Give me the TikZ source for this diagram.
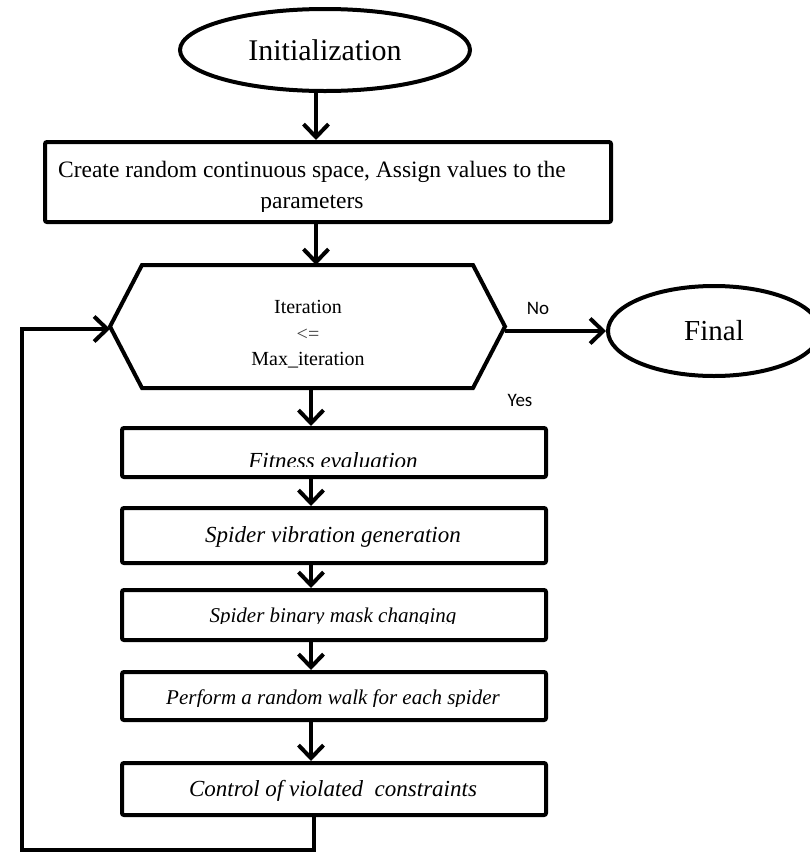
\documentclass[tikz,border=0pt]{standalone}
\usepackage{fontspec}
\setmainfont{Liberation Serif}[ItalicFont={Liberation Serif Italic}]
\newfontfamily\calib{Carlito}
\usetikzlibrary{shapes.geometric,arrows.meta}
\begin{document}
\begin{tikzpicture}[x=1pt,y=-1pt,
  line width=4pt,
  arr/.style={-{Straight Barb[length=13pt,width=25pt]},line width=4pt},
  oval/.style={ellipse,draw,line width=4pt,inner sep=0pt},
  box/.style={rectangle,draw,line width=4pt,rounded corners=2pt,inner sep=0pt},
  txt/.style={anchor=base,inner sep=0pt,outer sep=0pt},
  btxt/.style={txt,font=\fontsize{23}{26}\selectfont\itshape},
  stxt/.style={txt,font=\fontsize{21}{24}\selectfont\itshape},
  lab/.style={inner sep=0pt,font=\calib\fontsize{19}{22}\selectfont}]
\useasboundingbox (0,0) rectangle (810,855);
% axes
\coordinate (ax1) at (316,0);
\coordinate (ax2) at (311,0);
\coordinate (ax3) at (314,0);
% start
\node[oval,minimum width=290pt,minimum height=82pt,font=\fontsize{30}{34}\selectfont] (init) at (325,50) {Initialization};
% create box
\node[box,minimum width=566pt,minimum height=80pt] (create) at (328,182) {};
\node[txt,font=\fontsize{23.5}{26}\selectfont] (c1) at (312,177) {Create random continuous space, Assign values to the};
\begin{scope}
\clip (0,0) rectangle (810,211);
\node[txt,font=\fontsize{23.5}{26}\selectfont] (c2) at (312,208) {parameters};
\end{scope}
% hexagon decision
\node[rectangle,minimum width=331pt,minimum height=123pt,inner sep=0pt,outer sep=0pt] (hex) at (307.5,326.5) {};
\coordinate (hexW) at (110,326.5);
\coordinate (hexE) at (505,326.5);
\draw[line join=miter] (hexW) -- (hex.north west) -- (hex.north east) -- (hexE) -- (hex.south east) -- (hex.south west) -- cycle;
\node[txt,font=\fontsize{20}{24}\selectfont] (it1) at (308,313) {Iteration};
\node[txt,font=\fontsize{20}{24}\selectfont,text=black!75] (it2) at (308,340) {<=};
\node[txt,font=\fontsize{20}{24}\selectfont] (it3) at (308,365) {Max\_iteration};
% final
\node[oval,minimum width=212pt,minimum height=90pt,font=\fontsize{29}{33}\selectfont] (final) at (714,331) {Final};
\node[lab] (no) at (538,308) {No};
\node[lab] (yes) at (520,400) {Yes};
% process boxes
\node[box,minimum width=424pt,minimum height=49pt] (fit) at (334,452.5) {};
\node[box,minimum width=424pt,minimum height=55pt] (vib) at (334,535.5) {};
\node[box,minimum width=424pt,minimum height=50pt] (bin) at (334,615) {};
\node[box,minimum width=424pt,minimum height=48pt] (walk) at (334,696) {};
\node[box,minimum width=424pt,minimum height=52pt] (ctrl) at (334,789) {};
\begin{scope}
\clip (0,0) rectangle (810,466);
\node[btxt] (tfit) at (333,468) {Fitness evaluation};
\end{scope}
\node[btxt] (tvib) at (333,542) {Spider vibration generation};
\begin{scope}
\clip (0,0) rectangle (810,623);
\node[stxt] (tbin) at (333,622) {Spider binary mask changing};
\end{scope}
\begin{scope}
\clip (0,0) rectangle (810,706);
\node[stxt] (twalk) at (333,704) {Perform a random walk for each spider};
\end{scope}
\node[btxt] (tctrl) at (333,796) {Control of violated\ \ constraints};
% connectors
\draw[arr] (init.south -| ax1) -- (create.north -| ax1);
\draw[arr] (create.south -| ax1) -- (hex.north -| ax1);
\draw[arr] (hexE |- final.west) -- (final.west);
\draw[arr] (hex.south -| ax2) -- (fit.north -| ax2);
\draw[arr] (fit.south -| ax2) -- (vib.north -| ax2);
\draw[arr] (vib.south -| ax2) -- (bin.north -| ax2);
\draw[arr] (bin.south -| ax2) -- (walk.north -| ax2);
\draw[arr] (walk.south -| ax2) -- (ctrl.north -| ax2);
\coordinate (lbot) at (22,850);
\coordinate (ltop) at (22,329);
\draw[arr,line join=miter] (ctrl.south -| ax3) |- (lbot) -- (ltop) -- (hexW |- ltop);
\end{tikzpicture}
\end{document}
